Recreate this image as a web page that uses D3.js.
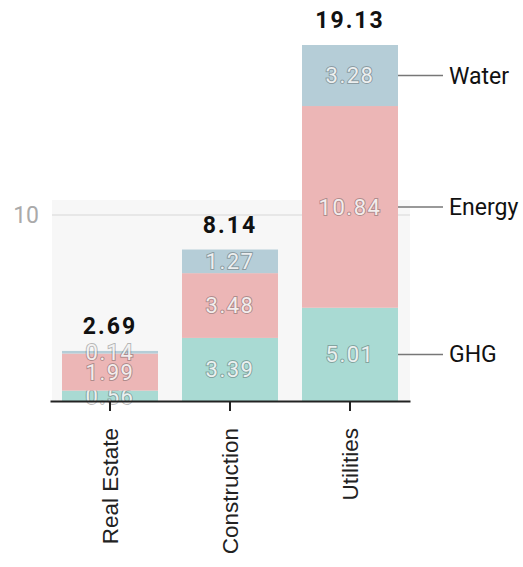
<!DOCTYPE html>
<html lang="en">
<head>
<meta charset="UTF-8">
<title>Stacked footprint by sector</title>
<script src="https://d3js.org/d3.v7.min.js"></script>
<style>
  body { margin: 0; background: #fff; }
  .seg-label {
    fill: #fff;
    fill-opacity: 0.85;
    stroke: rgba(60, 60, 60, 0.35);
    stroke-width: 2px;
    paint-order: stroke;
    font-family: Roboto, sans-serif;
    font-size: 22px;
    letter-spacing: 1.5px;
    text-anchor: middle;
  }
  .total { font-family: Roboto, sans-serif; font-weight: bold; font-size: 23px; letter-spacing: 2px; fill: #111; text-anchor: middle; }
  .legend { font-family: Roboto, sans-serif; font-size: 23px; fill: #111; }
</style>
</head>
<body>
<div id="chart"></div>
<script>
// data
var sectors = ["Real Estate", "Construction", "Utilities"];
var seriesNames = ["GHG", "Energy", "Water"];
var ghg = [0.56, 3.39, 5.01];
var energy = [1.99, 3.48, 10.84];
var water = [0.14, 1.27, 3.28];
var totals = [2.69, 8.14, 19.13];
var yTicks = [10];
var colors = ["#a9dad3", "#ecb6b6", "#b5cdd7"];

var width = 523, height = 567;
var margin = { top: 45, right: 113, bottom: 166, left: 50 };

var svg = d3.select("#chart").append("svg")
    .attr("width", width)
    .attr("height", height);

// table for stack
var rows = sectors.map(function (s, i) {
    return { sector: s, GHG: ghg[i], Energy: energy[i], Water: water[i] };
});
var stacked = d3.stack().keys(seriesNames)(rows);

var x = d3.scaleBand()
    .domain(sectors)
    .range([margin.left, width - margin.right])
    .paddingInner(0.2)
    .paddingOuter(0.1);

var y = d3.scaleLinear()
    .domain([0, 19.13])
    .range([height - margin.bottom, margin.top]);

// light plot background
svg.append("rect")
    .attr("x", margin.left + 2)
    .attr("y", y(10.8))
    .attr("width", width - margin.right - margin.left - 2)
    .attr("height", y(0) - y(10.8))
    .attr("fill", "#f7f7f7");

// gridline + tick label
svg.selectAll(".grid")
    .data(yTicks)
    .enter().append("line")
    .attr("x1", margin.left + 2)
    .attr("x2", width - margin.right)
    .attr("y1", function (d) { return y(d); })
    .attr("y2", function (d) { return y(d); })
    .attr("stroke", "#e2e2e2")
    .attr("stroke-width", 1.5);

svg.selectAll(".ytick")
    .data(yTicks)
    .enter().append("text")
    .attr("x", 39)
    .attr("y", function (d) { return y(d); })
    .attr("dy", "0.35em")
    .attr("text-anchor", "end")
    .style("font-family", "Roboto, sans-serif")
    .style("font-size", "23px")
    .style("fill", "#aaa")
    .text(function (d) { return d; });

// bars
var layer = svg.selectAll(".layer")
    .data(stacked)
    .enter().append("g")
    .attr("fill", function (d, i) { return colors[i]; });

layer.selectAll("rect")
    .data(function (d) { return d; })
    .enter().append("rect")
    .attr("x", function (d) { return x(d.data.sector); })
    .attr("y", function (d) { return y(d[1]); })
    .attr("width", x.bandwidth())
    .attr("height", function (d) { return y(d[0]) - y(d[1]); });

// x axis
var xAxis = svg.append("g")
    .attr("transform", "translate(0," + y(0) + ")")
    .call(d3.axisBottom(x).tickSizeOuter(0).tickSizeInner(10).tickPadding(10));
xAxis.select(".domain").attr("stroke", "#222").attr("stroke-width", 2);
xAxis.selectAll(".tick line").attr("stroke", "#222").attr("stroke-width", 2);
xAxis.selectAll(".tick text")
    .attr("transform", "rotate(-90)")
    .attr("x", -27)
    .attr("y", 0)
    .attr("dy", "0.35em")
    .style("text-anchor", "end")
    .style("font-family", "'Liberation Sans', Arial, sans-serif")
    .style("font-size", "22.5px")
    .style("fill", "#222");

// segment labels
layer.each(function (series) {
    d3.select(this).selectAll(".seg-label")
        .data(series)
        .enter().append("text")
        .attr("class", "seg-label")
        .attr("x", function (d) { return x(d.data.sector) + x.bandwidth() / 2; })
        .attr("y", function (d) { return y((d[0] + d[1]) / 2); })
        .attr("dy", "0.36em")
        .text(function (d) { return d.data[series.key].toFixed(2); });
});

// totals
svg.selectAll(".total")
    .data(sectors)
    .enter().append("text")
    .attr("class", "total")
    .attr("x", function (d) { return x(d) + x.bandwidth() / 2; })
    .attr("y", function (d, i) { return y(totals[i]) - 17; })
    .text(function (d, i) { return totals[i].toFixed(2); });

// legend at last bar
var last = sectors.length - 1;
var lx = x(sectors[last]) + x.bandwidth();
stacked.forEach(function (s) {
    var cy = y((s[last][0] + s[last][1]) / 2);
    svg.append("line")
        .attr("x1", lx).attr("x2", lx + 45)
        .attr("y1", cy).attr("y2", cy)
        .attr("stroke", "#777").attr("stroke-width", 1.5);
    svg.append("text")
        .attr("class", "legend")
        .attr("x", lx + 51)
        .attr("y", cy)
        .attr("dy", "0.35em")
        .text(s.key);
});
</script>
</body>
</html>
